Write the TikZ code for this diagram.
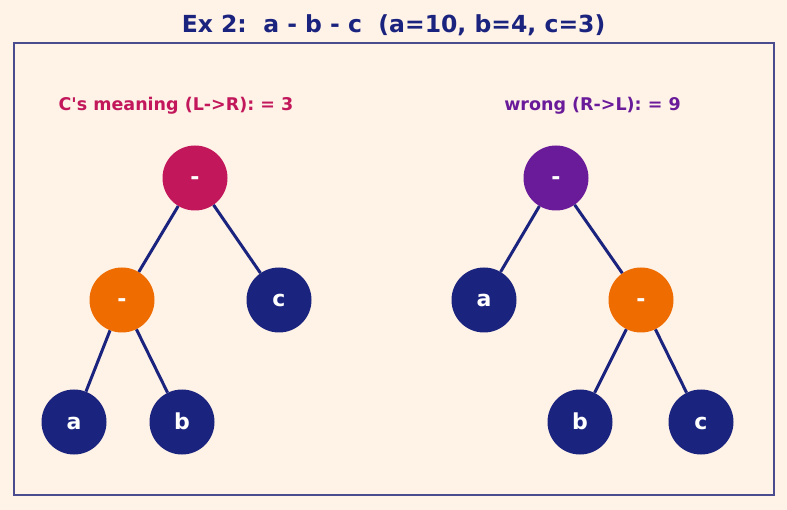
\documentclass[tikz,border=0pt]{standalone}
\usepackage{fontspec}
\setmainfont{DejaVu Sans}
\usetikzlibrary{positioning}

\definecolor{bgcream}{HTML}{FFF2E7}
\definecolor{navy}{HTML}{1A237E}
\definecolor{crimson}{HTML}{C2185B}
\definecolor{grape}{HTML}{6A1B9A}
\definecolor{tangerine}{HTML}{EF6C00}
\definecolor{framecol}{HTML}{4B4B8F}

\begin{document}
\begin{tikzpicture}[x=1pt, y=-1pt, node distance=122pt and 73pt, on grid,
        tnode/.style={circle, minimum size=65pt, inner sep=0pt, text=white,
            text height=14pt, text depth=0pt,
            font=\fontsize{22}{22}\selectfont\bfseries},
        leaf/.style={tnode, fill=navy},
        op/.style={tnode, fill=tangerine},
        branch/.style={draw=navy, line width=3pt}]
        \fill[bgcream] (0,0) rectangle (787,510);
        \draw[framecol, line width=1.4pt] (14,43) rectangle (774,495);

        \node[text=navy, font=\fontsize{23.5}{23.5}\selectfont\bfseries](title) at (393.5,25)
            {Ex 2:\ \ a - b - c\ \ (a=10, b=4, c=3)};
        \node[text=crimson, font=\fontsize{17.5}{17.5}\selectfont\bfseries](capl) at (176,106)
            {C\textquotesingle s meaning (L->R): = 3};
        \node[text=grape, font=\fontsize{17.5}{17.5}\selectfont\bfseries](capr) at (592.5,106)
            {wrong (R->L): = 9};

        % left to right
        \node[tnode, fill=crimson](l1) at (195,178){-};
        \node[op, below left = 122pt and 73pt of l1](l2){-};
        \node[leaf, below right = 122pt and 84pt of l1](l3){c};
        \node[leaf, below left = 122pt and 48pt of l2](l4){a};
        \node[leaf, below right = 122pt and 60pt of l2](l5){b};

        % right to left
        \node[tnode, fill=grape](r1) at (556,178){-};
        \node[leaf, below left = 122pt and 72pt of r1](r2){a};
        \node[op, below right = 122pt and 85pt of r1](r3){-};
        \node[leaf, below left = 122pt and 61pt of r3](r4){b};
        \node[leaf, below right = 122pt and 60pt of r3](r5){c};

        \draw[branch](l1) edge (l2);
        \draw[branch](l1) edge (l3);
        \draw[branch](l2) edge (l4);
        \draw[branch](l2) edge (l5);

        \draw[branch](r1) edge (r2);
        \draw[branch](r1) edge (r3);
        \draw[branch](r3) edge (r4);
        \draw[branch](r3) edge (r5);
    \end{tikzpicture}
\end{document}
